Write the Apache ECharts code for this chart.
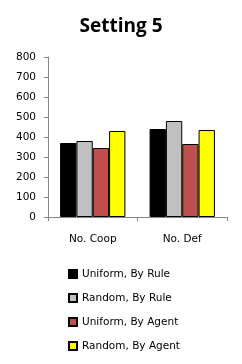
<!DOCTYPE html>
<html><head><meta charset="utf-8">
<script src="https://cdn.jsdelivr.net/npm/echarts@6/dist/echarts.min.js"></script>
<style>html,body{margin:0;padding:0;background:#fff}#c{width:242px;height:364px}</style>
</head><body><div id="c"></div>
<script>
const categories = ['No. Coop', 'No. Def'];
const seriesNames = ['Uniform, By Rule', 'Random, By Rule', 'Uniform, By Agent', 'Random, By Agent'];
const uniformByRule = [370, 440];
const randomByRule = [380, 480];
const uniformByAgent = [345, 365];
const randomByAgent = [430, 435];
const colors = ['#000000', '#c0c0c0', '#c0504d', '#ffff00'];
const values = [uniformByRule, randomByRule, uniformByAgent, randomByAgent];

const chart = echarts.init(document.getElementById('c'), null, {renderer: 'canvas'});
const font = 'DejaVu Sans';
chart.setOption({
  animation: false,
  title: {text: 'Setting 5', left: 'center', top: 12,
    textStyle: {fontFamily: 'Open Sans', fontWeight: 'bold', fontSize: 19, color: '#000'}},
  grid: {left: 48, right: 15, top: 57, bottom: 147},
  legend: {orient: 'vertical', left: 68, top: 267, padding: 0, itemWidth: 8, itemHeight: 8, itemGap: 10,
    icon: 'rect', data: seriesNames,
    textStyle: {fontFamily: font, fontSize: 10.5, color: '#000', lineHeight: 14}},
  xAxis: {type: 'category', data: categories,
    axisLine: {lineStyle: {color: '#868686', width: 1}},
    axisTick: {show: true, length: 4, lineStyle: {color: '#868686'}},
    axisLabel: {fontFamily: font, fontSize: 10.5, color: '#000', margin: 17}},
  yAxis: {type: 'value', min: 0, max: 800, interval: 100,
    axisLine: {show: true, lineStyle: {color: '#868686', width: 1}},
    axisTick: {show: true, length: 4, lineStyle: {color: '#868686'}},
    splitLine: {show: false},
    axisLabel: {fontFamily: font, fontSize: 10.5, color: '#000', margin: 12}},
  series: seriesNames.map((n, i) => ({
    name: n, type: 'bar', data: values[i], barGap: '0%', barCategoryGap: '27%',
    itemStyle: {color: colors[i], borderColor: '#000', borderWidth: 1}
  }))
});
</script></body></html>
